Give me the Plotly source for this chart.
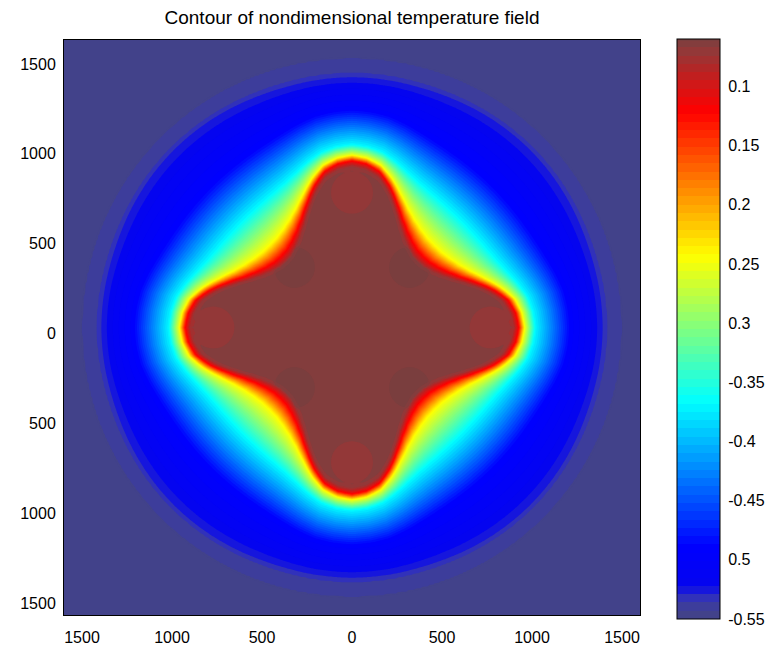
import numpy as np
import plotly.graph_objects as go

# ---- data ----
# interface (edge of the dark-red solid region) radius vs angle from nearest axis
angle_deg = [0, 5, 10, 15, 20, 25, 30, 35, 40, 45]
interface_r = [898, 884, 850, 780, 698, 628, 578, 545, 525, 520]
outer_r = 1500
# temperature levels and their normalised distance from interface (axis / diagonal)
level_T = [-0.075, -0.12, -0.245, -0.37, -0.49, -0.527, -0.536, -0.5425, -0.56]
level_s_axis = [0.0, 0.048, 0.10, 0.20, 0.52, 0.81, 0.86, 1.0, 1.02]
level_s_diag = [0.0, 0.039, 0.13, 0.34, 0.60, 0.89, 0.917, 1.0, 1.02]
interior_T = -0.064
dark_spot_x = [-320, 320, -320, 320]
dark_spot_y = [335, 335, -335, -335]
dark_spot_T = -0.057
light_spot_x = [-770, 770, 0, 0]
light_spot_y = [0, 0, 750, -750]
light_spot_T = -0.071
spot_r = 115

x_ticks = [-1500, -1000, -500, 0, 500, 1000, 1500]
x_ticktext = ["1500", "1000", "500", "0", "500", "1000", "1500"]
y_ticks = [-1500, -1000, -500, 0, 500, 1000, 1500]
y_ticktext = ["1500", "1000", "500", "0", "500", "1000", "1500"]
cb_ticks = [-0.1, -0.15, -0.2, -0.25, -0.3, -0.35, -0.4, -0.45, -0.5, -0.55]
cb_ticktext = ["0.1", "0.15", "0.2", "0.25", "0.3", "-0.35", "-0.4", "-0.45", "0.5", "-0.55"]

# ---- build field ----
g = np.linspace(-1600, 1600, 321)
X, Y = np.meshgrid(g, g)
R = np.hypot(X, Y)
phi = np.degrees(np.abs(np.arctan2(Y, X))) % 90.0
phi = np.minimum(phi, 90.0 - phi)
Rint = np.interp(phi, angle_deg, interface_r)
w = (interface_r[0] - Rint) / (interface_r[0] - interface_r[-1])
S = (R - Rint) / (outer_r - Rint)

T = np.full(R.shape, level_T[-1], dtype=float)
sa = np.array(level_s_axis)
sd = np.array(level_s_diag)
for k in range(len(level_T) - 1):
    s0 = sa[k] * (1 - w) + sd[k] * w
    s1 = sa[k + 1] * (1 - w) + sd[k + 1] * w
    m = (S >= s0) & (S < s1)
    T[m] = (level_T[k] + (S - s0) / (s1 - s0) * (level_T[k + 1] - level_T[k]))[m]

inside = S < 0
din = Rint - R
Tin = interior_T + (level_T[0] - interior_T) * np.clip(1 - din / 30.0, 0, 1)
for cx, cy in zip(dark_spot_x, dark_spot_y):
    d = np.hypot(X - cx, Y - cy)
    f = np.clip((spot_r - d) / 20.0 + 0.5, 0, 1)
    Tin = Tin + (dark_spot_T - interior_T) * f
for cx, cy in zip(light_spot_x, light_spot_y):
    d = np.hypot(X - cx, Y - cy)
    f = np.clip((spot_r - d) / 20.0 + 0.5, 0, 1)
    Tin = Tin + (light_spot_T - interior_T) * f
T[inside] = Tin[inside]

colorscale = [
    [0.0, "rgb(66,66,138)"], [0.0141, "rgb(66,66,138)"], [0.0282, "rgb(56,56,170)"],
    [0.0423, "rgb(42,42,200)"], [0.0563, "rgb(5,5,238)"], [0.125, "rgb(0,0,255)"],
    [0.375, "rgb(0,255,255)"], [0.625, "rgb(255,255,0)"], [0.875, "rgb(255,0,0)"],
    [0.93, "rgb(200,28,28)"], [0.958, "rgb(168,44,44)"], [0.972, "rgb(154,52,52)"],
    [0.986, "rgb(139,60,60)"], [1.0, "rgb(122,62,62)"],
]

font = "Liberation Sans, Arial, sans-serif"
fig = go.Figure(go.Contour(
    x=g, y=g, z=T,
    colorscale=colorscale, zmin=-0.55, zmax=-0.06, zauto=False,
    contours=dict(start=-0.55, end=-0.06, size=0.007, coloring="fill", showlines=False),
    line=dict(width=0),
    hoverinfo="skip",
    colorbar=dict(
        x=1.0642, xanchor="left", xpad=0, ypad=0,
        y=0.4974, yanchor="middle", len=580, lenmode="pixels",
        thickness=43, outlinecolor="black", outlinewidth=1,
        tickvals=cb_ticks, ticktext=cb_ticktext,
        ticks="outside", ticklen=5, tickcolor="rgba(0,0,0,0)",
        tickfont=dict(family=font, size=16, color="black"),
    ),
))

fig.update_layout(
    width=777, height=649,
    margin=dict(l=64, r=137, t=40, b=34, autoexpand=False),
    paper_bgcolor="white", plot_bgcolor="white",
    title=dict(text="Contour of nondimensional temperature field",
               x=0.5, xref="paper", y=1 - 17 / 649, yref="container",
               xanchor="center", yanchor="middle", automargin=False,
               font=dict(family=font, size=19, color="black")),
    xaxis=dict(range=[-1600, 1600], tickvals=x_ticks, ticktext=x_ticktext,
               showline=True, linecolor="black", linewidth=1, mirror=True,
               ticks="", showgrid=False, zeroline=False, ticklabelstandoff=8,
               automargin=False,
               tickfont=dict(family=font, size=16, color="black")),
    yaxis=dict(range=[-1600, 1600], tickvals=y_ticks, ticktext=y_ticktext,
               showline=True, linecolor="black", linewidth=1, mirror=True,
               ticks="", showgrid=False, zeroline=False, ticklabelstandoff=4,
               ticklabelshift=6, automargin=False,
               tickfont=dict(family=font, size=16, color="black")),
)

fig.write_html("out.html", config={"displayModeBar": False},
               post_script="document.body.style.margin='0px';document.body.style.overflow='hidden';")
